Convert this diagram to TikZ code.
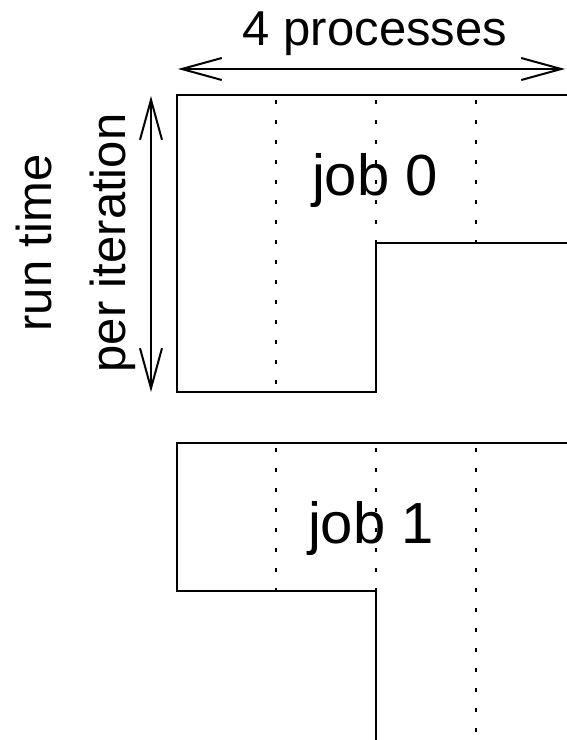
\documentclass[tikz,border=0pt]{standalone}
\usepackage{fontspec}
\setmainfont{Liberation Sans}
\usetikzlibrary{arrows.meta}
\begin{document}
\begin{tikzpicture}[x=1pt,y=-1pt,
  edge/.style={line width=2.3pt,line join=miter},
  grid/.style={line width=2.4pt,dash pattern=on 4pt off 16pt,dash phase=15pt},
  span/.style={line width=2pt,{Straight Barb[length=40pt,width=22pt,line width=2pt]}-{Straight Barb[length=40pt,width=22pt,line width=2pt]}},
  lbl/.style={inner sep=0pt,anchor=base,font=\fontsize{49}{58}\selectfont},
  joblbl/.style={inner sep=0pt,anchor=base,font=\fontsize{58}{68}\selectfont}]
\useasboundingbox (0,0) rectangle (566,740);

% corner points
\coordinate (aTL) at (177,95);
\coordinate (aTR) at (567,95);
\coordinate (aBL) at (177,392);
\coordinate (aBM) at (376,392);
\coordinate (aSM) at (376,243);
\coordinate (aSR) at (567,243);
\coordinate (bTL) at (177,443);
\coordinate (bTR) at (567,443);
\coordinate (bBL) at (177,591);
\coordinate (bBM) at (376,591);
\coordinate (bEnd) at (376,741);

% job 0 process columns
\draw[grid] (276,95) -- (276,392);
\draw[grid] (376,95) -- (376,243);
\draw[grid] (476,95) -- (476,243);
% job 1 process columns
\draw[grid] (276,443) -- (276,591);
\draw[grid] (376,443) -- (376,591);
\draw[grid] (476,443) -- (476,741);

% job outlines
\draw[edge] (aTR) -- (aTL) -- (aBL) -- (aBM) -- (aSM) -- (aSR);
\draw[edge] (bTR) -- (bTL) -- (bBL) -- (bBM) -- (bEnd);

% dimension arrows
\coordinate (hL) at (178,69);
\coordinate (hR) at (565,69);
\coordinate (vT) at (151,96);
\coordinate (vB) at (151,392);
\draw[span] (hL) -- (hR);
\draw[span] (vT) -- (vB);

% labels
\node[lbl] (procs) at (375,45) {4 processes};
\node[lbl,rotate=90] (runtime) at (52,243) {run time};
\node[lbl,rotate=90] (periter) at (125,243) {per iteration};
\node[joblbl] (job0) at (375,195) {job 0};
\node[joblbl] (job1) at (371,543) {job 1};
\end{tikzpicture}
\end{document}
